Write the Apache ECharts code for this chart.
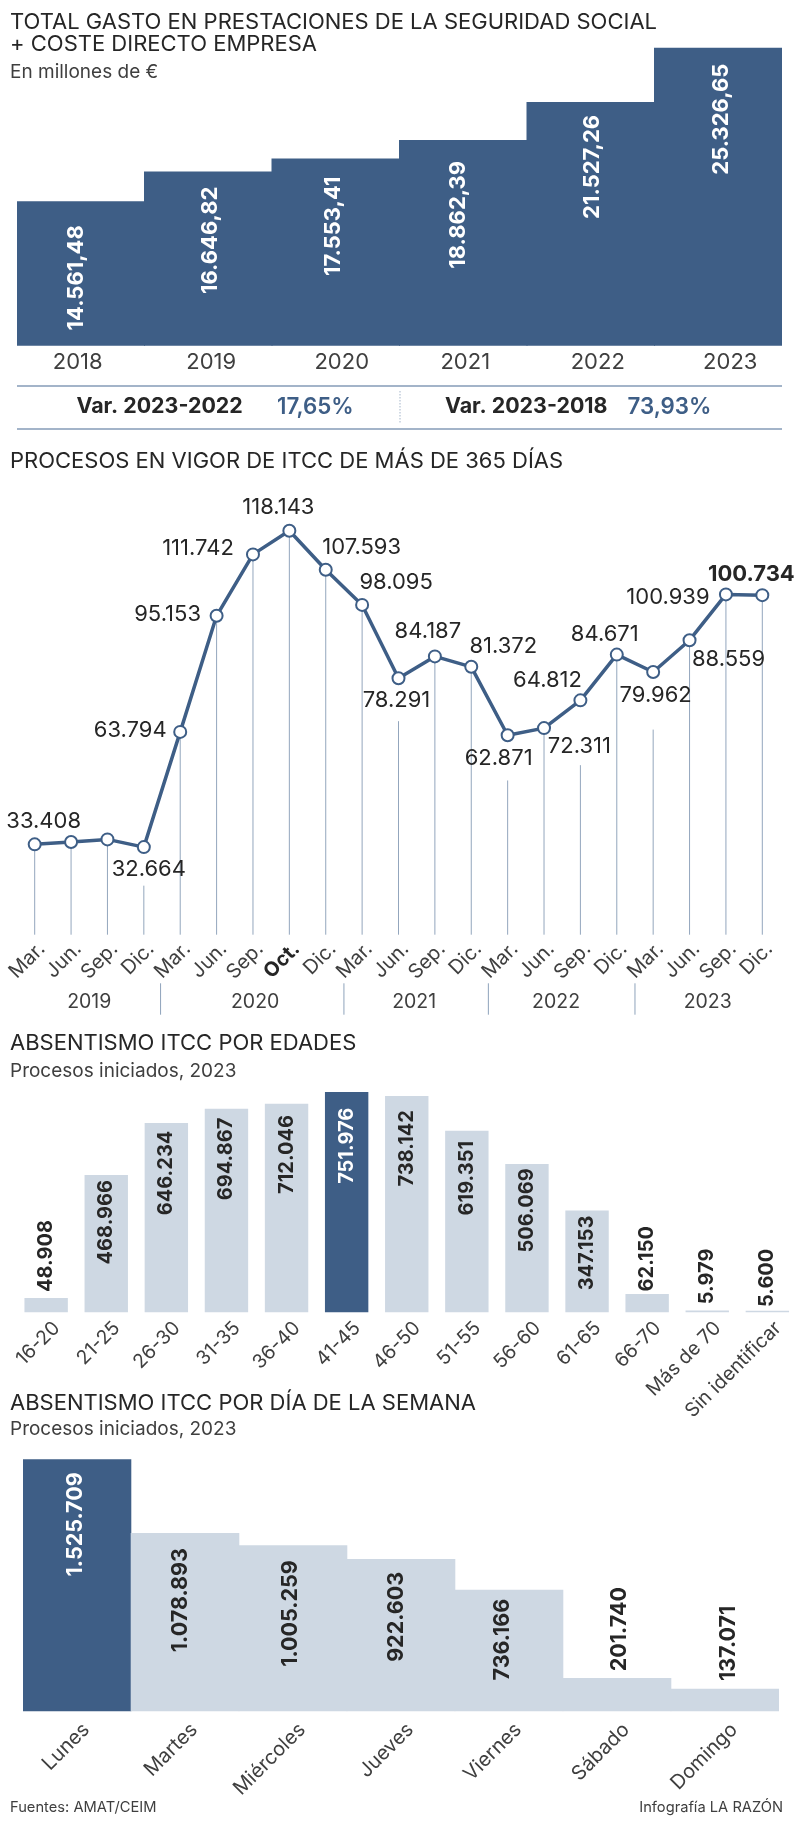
<!DOCTYPE html>
<html><head><meta charset="utf-8">
<style>html,body{margin:0;padding:0;background:#fff}#c{width:800px;height:1825px}</style>
<script src="https://cdn.jsdelivr.net/npm/echarts@6/dist/echarts.min.js"></script>
</head><body><div id="c"></div>
<script>
const DARK='#3e5e86', LIGHT='#ced8e3', INK='#262626', SOFT='#3f3f3f', RULE='#a3b4c9';
const FONT='Inter';

const gastoYears=['2018','2019','2020','2021','2022','2023'];
const gastoValues=[14561.48,16646.82,17553.41,18862.39,21527.26,25326.65];
const gastoLabelGap=[24,15,18,21,13,16];
const gastoLabelNudge=[-5,2.5,-2.5,-4.5,1.5,3];
const gastoTickPad=[[0,6,0,0],[0,0,0,6],[0,0,0,12],[0,0,0,4],[0,0,0,14],[0,0,0,24]];

const procMonths=['Mar.','Jun.','Sep.','Dic.','Mar.','Jun.','Sep.','Oct.','Dic.','Mar.','Jun.','Sep.','Dic.','Mar.','Jun.','Sep.','Dic.','Mar.','Jun.','Sep.','Dic.'];
const procValues=[33408,34030,34750,32664,63794,95153,111742,118143,107593,98095,78291,84187,81372,62871,64812,72311,84671,79962,88559,100939,100734];
const procLabelShown=[1,0,0,1,1,1,1,1,1,1,1,1,1,1,1,1,1,1,1,1,1];
const procLabelDx=[9,0,0,5,-50,-49,-55,-11,36,34,-2,-7,32,-9,3.5,-1,-12,2.5,39,-58,-11];
const procLabelDy=[-23,0,0,22,-1.5,-1,-6.5,-23,-22.6,-22.6,22,-24.5,-20,22.6,-48,46,-20.7,23.7,18.8,3,-21];
const procStemTop=[33408,34030,34750,22248,63794,95153,111742,118143,107593,98095,66683,84187,81372,50666,64812,54800,84671,64409,88559,100939,100734];
const procYears=['2019','2020','2021','2022','2023'];
const procYearCenters=[1.5,6.06,10.43,14.33,18.5];
const procYearBreaks=[3.46,8.5,12.47,16.5];

const edadCats=['16-20','21-25','26-30','31-35','36-40','41-45','46-50','51-55','56-60','61-65','66-70','Más de 70','Sin identificar'];
const edadValues=[48908,468966,646234,694867,712046,751976,738142,619351,506069,347153,62150,5979,5600];
const edadLabelGap=[-78,5,7.7,9,11.3,15.7,14,10,4.3,5,-68,-62,-62];

const diaCats=['Lunes','Martes','Miércoles','Jueves','Viernes','Sábado','Domingo'];
const diaValues=[1525709,1078893,1005259,922603,736166,201740,137071];
const diaLabelGap=[13,15,15,13,9,-91,-83];
const diaLabelNudge=[-2,-4,-2.5,-4.5,-6.5,3,3.5];

const fmtInt=v=>String(v).replace(/\B(?=(\d{3})+$)/g,'.');
const fmtDec=v=>{const p=v.toFixed(2).split('.');return fmtInt(p[0])+','+p[1];};

function rotLabel(text,gap,dx,color,size){
  return {show:true,position:'insideTop',distance:0,rotate:90,align:'right',verticalAlign:'middle',offset:[-gap,dx],
    formatter:text,color:color,fontFamily:FONT,fontWeight:'bold',fontSize:size};
}
const txt=(t,x,y,size,fill,weight,align,sx)=>({type:'text',silent:true,x:x,y:y,scaleX:sx||1,style:{text:t,x:0,y:0,fill:fill,
  font:(weight||'normal')+' '+size+'px '+FONT,textAlign:align||'left',textVerticalAlign:'middle'}});
const rule=(x1,y1,x2,y2,w,dash)=>({type:'line',silent:true,shape:{x1,y1,x2,y2},style:{stroke:RULE,lineWidth:w,lineDash:dash||null}});

const grids=[
  {left:17,width:765,top:47.7,height:298},
  {left:16.5,width:764,top:530.7,height:404},
  {left:16.1,width:781.3,top:1092,height:220.3},
  {left:23,width:756,top:1459.3,height:252}
];
const option={
  animation:false,
  grid:grids,
  xAxis:[
    {gridIndex:0,type:'category',data:gastoYears.map((y,i)=>({value:y,textStyle:{padding:gastoTickPad[i]}})),
      axisLine:{show:false},axisTick:{show:false},axisLabel:{color:SOFT,fontFamily:FONT,fontSize:22,margin:6,interval:0}},
    {gridIndex:1,type:'category',data:procMonths,axisLine:{show:false},axisTick:{show:false},
      axisLabel:{interval:0,rotate:45,margin:4,color:SOFT,fontFamily:FONT,fontSize:20,verticalAlign:'top',
        formatter:v=>v==='Oct.'?'{b|Oct.}':v,rich:{b:{fontWeight:'bold',fontSize:20,color:INK,fontFamily:FONT}}}},
    {gridIndex:1,type:'value',min:-0.5,max:20.5,show:false},
    {gridIndex:2,type:'category',data:edadCats,axisLine:{show:false},axisTick:{show:false},
      axisLabel:{interval:0,rotate:45,margin:2,padding:[5,0,0,0],color:SOFT,fontFamily:FONT,fontSize:19.5,verticalAlign:'top'}},
    {gridIndex:3,type:'category',data:diaCats,axisLine:{show:false},axisTick:{show:false},
      axisLabel:{interval:0,rotate:45,margin:6,padding:[3,0,0,0],color:SOFT,fontFamily:FONT,fontSize:20,verticalAlign:'top'}}
  ],
  yAxis:[
    {gridIndex:0,type:'value',min:4437,max:25326.65,show:false},
    {gridIndex:1,type:'value',min:9000,max:118143,show:false},
    {gridIndex:2,type:'value',min:0,max:751976,show:false},
    {gridIndex:3,type:'value',min:0,max:1525709,show:false}
  ],
  series:[
    {type:'bar',xAxisIndex:0,yAxisIndex:0,barWidth:128.5,itemStyle:{color:DARK},
      data:gastoValues.map((v,i)=>({value:v,label:rotLabel(fmtDec(v),gastoLabelGap[i],gastoLabelNudge[i],'#fff',22)}))},
    {type:'custom',xAxisIndex:1,yAxisIndex:1,z:1,data:procStemTop.map((v,i)=>[i,v]),encode:{x:0,y:1},
      renderItem:(p,api)=>{const a=api.coord([api.value(0),api.value(1)]),b=api.coord([api.value(0),9000]);
        return {type:'line',shape:{x1:a[0],y1:a[1],x2:b[0],y2:b[1]},style:{stroke:'#93a6bd',lineWidth:1}};}},
    {type:'line',xAxisIndex:1,yAxisIndex:1,z:3,symbol:'circle',symbolSize:12,showSymbol:true,
      lineStyle:{color:DARK,width:3.5},itemStyle:{color:'#fff',borderColor:DARK,borderWidth:2},
      data:procValues.map((v,i)=>({value:v,label:procLabelShown[i]?{show:true,position:'inside',align:'center',verticalAlign:'middle',
        offset:[procLabelDx[i],procLabelDy[i]],formatter:fmtInt(v),color:INK,fontFamily:FONT,fontSize:22,
        fontWeight:i===20?'bold':'normal'}:{show:false}}))},
    {type:'custom',xAxisIndex:2,yAxisIndex:1,data:procYears.map((y,i)=>[procYearCenters[i],9000,y]),encode:{x:0,y:1},silent:true,
      renderItem:(p,api)=>{const a=api.coord([api.value(0),9000]);
        return {type:'text',style:{text:procYears[p.dataIndex],x:a[0],y:a[1]+67,fill:SOFT,font:'19.5px '+FONT,textAlign:'center',textVerticalAlign:'middle'}};}},
    {type:'custom',xAxisIndex:2,yAxisIndex:1,data:procYearBreaks.map(b=>[b,9000]),encode:{x:0,y:1},silent:true,
      renderItem:(p,api)=>{const a=api.coord([api.value(0),9000]);
        return {type:'line',shape:{x1:a[0],y1:a[1]+48.6,x2:a[0],y2:a[1]+80},style:{stroke:'#8ea3bb',lineWidth:1}};}},
    {type:'bar',xAxisIndex:3,yAxisIndex:2,barWidth:43.4,
      data:edadValues.map((v,i)=>({value:v,itemStyle:{color:i===5?DARK:LIGHT},
        label:rotLabel(fmtInt(v),edadLabelGap[i],0,i===5?'#fff':INK,20)}))},
    {type:'bar',xAxisIndex:4,yAxisIndex:3,barWidth:108.6,
      data:diaValues.map((v,i)=>({value:v,itemStyle:{color:i===0?DARK:LIGHT},
        label:rotLabel(fmtInt(v),diaLabelGap[i],diaLabelNudge[i],i===0?'#fff':INK,21.5)}))}
  ],
  graphic:{elements:[
    txt('TOTAL GASTO EN PRESTACIONES DE LA SEGURIDAD SOCIAL',10,22,22,INK),
    txt('+ COSTE DIRECTO EMPRESA',10,44,22,INK),
    txt('En millones de €',10,72,19,SOFT),
    rule(17,386,782,386,2),rule(17,429,782,429,2),rule(400,391,400,423,1,[1.5,1.5]),
    txt('Var. 2023-2022',76.5,407,21.4,INK,'bold'),
    txt('17,65%',277,407,22.3,DARK,600),
    txt('Var. 2023-2018',445,407,21.4,INK,'bold'),
    txt('73,93%',627.5,407,22.3,DARK,600),
    txt('PROCESOS EN VIGOR DE ITCC DE MÁS DE 365 DÍAS',10,461,22,INK),
    txt('ABSENTISMO ITCC POR EDADES',10,1043,22,INK),
    txt('Procesos iniciados, 2023',10,1071,19,SOFT),
    txt('ABSENTISMO ITCC POR DÍA DE LA SEMANA',10,1403,22,INK),
    txt('Procesos iniciados, 2023',10,1429,19,SOFT),
    txt('Fuentes: AMAT/CEIM',10,1808,14.7,SOFT),
    txt('Infografía LA RAZÓN',783,1808,14.7,SOFT,'normal','right')
  ]}
};
echarts.init(document.getElementById('c')).setOption(option);
</script></body></html>
